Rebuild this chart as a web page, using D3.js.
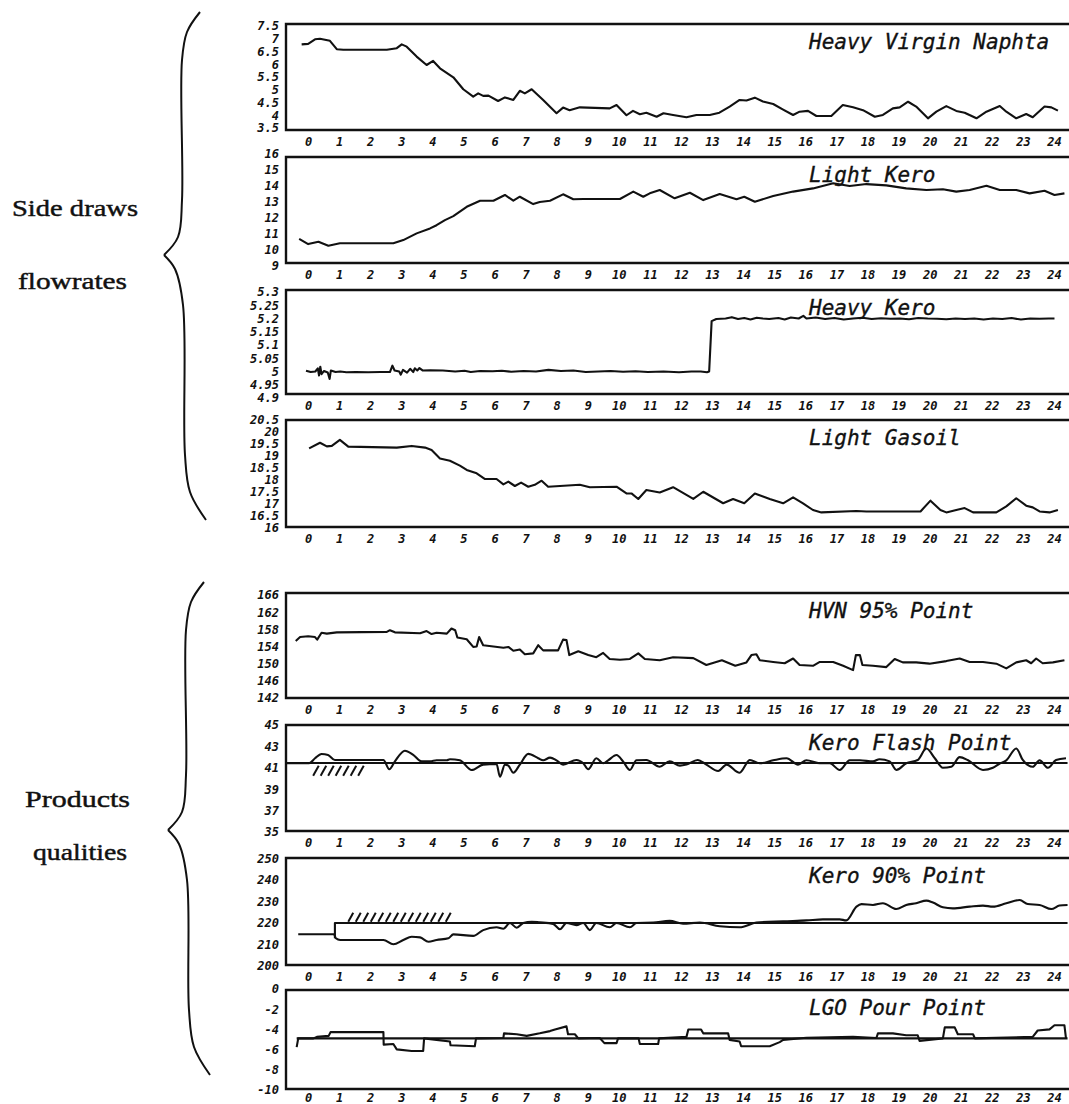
<!DOCTYPE html>
<html>
<head>
<meta charset="utf-8">
<script src="https://cdn.jsdelivr.net/npm/d3@7"></script>
<style>
  body { margin: 0; background: #fff; }
  text { fill: #111; }
  .tick text { font-family: "DejaVu Sans Mono", monospace; font-weight: bold; font-style: italic; font-size: 12px; }
  .title { font-family: "DejaVu Sans Mono", monospace; font-style: italic; font-size: 21px; stroke: #111; stroke-width: 0.35px; }
  .side { font-family: "Liberation Serif", serif; font-size: 24px; stroke: #111; stroke-width: 0.45px; }
</style>
</head>
<body>
<div id="chart"></div>
<script>
/* Crude unit: side draws flowrates and product qualities over 24 hours */

const hourTicks = [0,1,2,3,4,5,6,7,8,9,10,11,12,13,14,15,16,17,18,19,20,21,22,23,24];

const titles = ["Heavy Virgin Naphta", "Light Kero", "Heavy Kero", "Light Gasoil",
                "HVN 95% Point", "Kero Flash Point", "Kero 90% Point", "LGO Pour Point"];

const hvnTicks    = [3.5,4,4.5,5,5.5,6,6.5,7,7.5];
const lkTicks     = [9,10,11,12,13,14,15,16];
const hkTicks     = [4.9,4.95,5,5.05,5.1,5.15,5.2,5.25,5.3];
const lgoTicks    = [16,16.5,17,17.5,18,18.5,19,19.5,20,20.5];
const hvn95Ticks  = [142,146,150,154,158,162,166];
const flashTicks  = [35,37,39,41,43,45];
const k90Ticks    = [200,210,220,230,240,250];
const pourTicks   = [-10,-8,-6,-4,-2,0];

// [hour, value]
const hvnFlow = [[-0.14,6.78],[0.07,6.8],[0.29,6.98],[0.45,7.0],[0.77,6.92],[0.99,6.59],[1.2,6.57],[2.6,6.57],[2.92,6.63],[3.08,6.78],[3.24,6.69],[3.56,6.3],[3.88,5.97],[4.09,6.13],[4.31,5.84],[4.74,5.49],[5.06,5.02],[5.38,4.73],[5.54,4.86],[5.7,4.76],[5.87,4.77],[6.18,4.56],[6.4,4.7],[6.67,4.6],[6.88,4.96],[7.04,4.86],[7.26,5.02],[7.63,4.6],[8.06,4.08],[8.27,4.3],[8.48,4.2],[8.81,4.31],[9.77,4.27],[9.99,4.4],[10.31,4.0],[10.52,4.17],[10.74,4.04],[10.95,4.1],[11.28,3.94],[11.5,4.08],[11.81,4.01],[12.24,3.92],[12.56,4.01],[12.99,4.01],[13.3,4.1],[13.63,4.34],[13.95,4.6],[14.17,4.58],[14.44,4.69],[14.7,4.54],[15.03,4.44],[15.35,4.22],[15.67,4.01],[15.88,4.14],[16.15,4.17],[16.42,3.97],[16.9,3.97],[17.27,4.4],[17.6,4.31],[17.92,4.2],[18.3,3.94],[18.56,4.01],[18.88,4.27],[19.1,4.31],[19.37,4.53],[19.63,4.34],[20.01,3.88],[20.28,4.14],[20.6,4.36],[20.92,4.17],[21.19,4.1],[21.57,3.88],[21.89,4.14],[22.32,4.36],[22.53,4.14],[22.85,3.88],[23.17,4.05],[23.38,3.92],[23.76,4.34],[23.98,4.31],[24.19,4.18]];

const lightKeroFlow = [[-0.22,10.69],[0.07,10.37],[0.4,10.52],[0.72,10.27],[1.09,10.42],[2.81,10.42],[3.13,10.62],[3.56,11.04],[3.99,11.35],[4.2,11.55],[4.47,11.87],[4.74,12.12],[5.17,12.7],[5.6,13.08],[6.03,13.08],[6.4,13.44],[6.67,13.08],[6.88,13.33],[7.31,12.87],[7.52,13.0],[7.85,13.08],[8.27,13.48],[8.6,13.17],[8.92,13.19],[10.1,13.19],[10.53,13.65],[10.85,13.33],[11.06,13.54],[11.38,13.75],[11.86,13.23],[12.35,13.58],[12.78,13.12],[13.31,13.5],[13.85,13.17],[14.1,13.33],[14.44,13.02],[15.03,13.37],[15.67,13.65],[16.31,13.85],[16.96,14.17],[17.49,14.0],[18.03,14.12],[18.67,14.04],[19.31,13.85],[19.96,13.75],[20.49,13.8],[20.92,13.65],[21.35,13.75],[21.89,14.02],[22.32,13.75],[22.85,13.75],[23.28,13.54],[23.76,13.7],[24.08,13.44],[24.4,13.54]];

const heavyKeroFlow = [[0.0,5.003],[0.15,4.998],[0.3,5.0],[0.38,5.012],[0.42,4.985],[0.46,5.018],[0.5,4.99],[0.58,5.002],[0.7,4.996],[0.76,4.972],[0.8,5.004],[0.95,4.998],[1.1,5.0],[1.3,4.997],[1.6,4.998],[2.0,4.997],[2.4,4.998],[2.7,4.998],[2.78,5.022],[2.85,5.004],[3.0,5.0],[3.05,4.988],[3.12,5.006],[3.25,4.996],[3.35,5.01],[3.45,4.998],[3.5,5.012],[3.58,5.004],[3.65,5.013],[3.75,5.004],[4.0,5.005],[4.4,5.004],[4.8,5.0],[5.1,5.003],[5.3,4.998],[5.6,5.002],[6.0,5.001],[6.3,5.003],[6.6,4.999],[7.0,5.002],[7.4,5.0],[7.8,5.006],[8.2,5.002],[8.6,5.004],[9.0,4.998],[9.4,5.0],[9.8,5.002],[10.2,4.999],[10.6,5.001],[11.0,4.998],[11.5,5.0],[12.0,4.997],[12.4,5.0],[12.7,5.0],[12.9,4.997],[12.97,5.0],[13.05,5.19],[13.2,5.198],[13.5,5.2],[13.7,5.205],[13.9,5.198],[14.1,5.202],[14.3,5.196],[14.5,5.203],[14.7,5.2],[14.9,5.198],[15.2,5.202],[15.4,5.196],[15.6,5.204],[15.85,5.2],[16.0,5.21],[16.1,5.2],[16.4,5.204],[16.7,5.198],[17.0,5.202],[17.3,5.196],[17.6,5.2],[17.9,5.203],[18.2,5.198],[18.5,5.201],[18.8,5.199],[19.1,5.2],[19.4,5.197],[19.7,5.202],[20.0,5.2],[20.3,5.199],[20.6,5.197],[20.9,5.2],[21.2,5.198],[21.5,5.2],[21.8,5.196],[22.1,5.2],[22.4,5.198],[22.7,5.202],[23.0,5.196],[23.3,5.2],[23.6,5.199],[23.9,5.2],[24.08,5.2]];

const lightGasoilFlow = [[0.1,19.32],[0.45,19.55],[0.67,19.4],[0.83,19.42],[1.09,19.67],[1.36,19.39],[2.92,19.35],[3.4,19.42],[3.83,19.35],[4.04,19.25],[4.31,18.9],[4.63,18.8],[4.95,18.6],[5.17,18.42],[5.49,18.28],[5.76,18.04],[6.13,18.04],[6.35,17.82],[6.51,17.93],[6.72,17.75],[6.92,17.89],[7.15,17.72],[7.36,17.8],[7.58,17.97],[7.79,17.72],[8.17,17.75],[8.81,17.8],[9.13,17.7],[9.99,17.72],[10.31,17.44],[10.47,17.44],[10.69,17.21],[10.95,17.58],[11.38,17.48],[11.81,17.7],[12.46,17.21],[12.78,17.51],[13.42,17.03],[13.74,17.21],[14.1,17.03],[14.44,17.44],[14.92,17.21],[15.35,17.03],[15.67,17.28],[15.99,17.03],[16.31,16.75],[16.58,16.65],[17.71,16.71],[18.03,16.69],[19.77,16.69],[20.09,17.14],[20.41,16.75],[20.6,16.65],[20.92,16.75],[21.19,16.83],[21.46,16.65],[22.21,16.65],[22.53,16.9],[22.85,17.24],[23.17,16.93],[23.38,16.86],[23.6,16.69],[23.92,16.65],[24.19,16.75]];

const hvn95 = [[-0.33,155.3],[-0.19,156.2],[0.07,156.4],[0.29,156.2],[0.36,155.6],[0.5,157.2],[0.67,157.0],[0.99,157.3],[2.6,157.4],[2.7,157.8],[2.86,157.3],[3.67,157.1],[3.88,157.6],[4.04,156.9],[4.2,157.2],[4.53,157.0],[4.68,158.2],[4.8,157.8],[4.87,156.1],[5.17,155.7],[5.38,153.9],[5.49,154.0],[5.57,156.2],[5.7,154.3],[6.03,154.0],[6.35,153.7],[6.51,153.9],[6.67,153.0],[6.88,153.3],[7.04,152.2],[7.31,152.4],[7.47,154.3],[7.63,153.1],[8.11,153.1],[8.27,155.6],[8.38,155.5],[8.47,152.0],[8.76,152.9],[9.08,152.0],[9.34,151.5],[9.56,152.5],[9.77,151.1],[10.1,150.9],[10.42,151.1],[10.69,152.4],[10.9,151.1],[11.38,150.8],[11.81,151.5],[12.46,151.3],[12.88,149.7],[13.38,150.8],[13.81,149.5],[14.17,150.3],[14.33,152.0],[14.49,152.2],[14.6,150.8],[15.03,150.4],[15.4,150.1],[15.67,151.2],[15.88,149.7],[16.31,149.5],[16.53,150.4],[16.96,150.4],[17.28,149.5],[17.6,148.5],[17.69,152.0],[17.82,152.0],[17.9,149.7],[18.24,149.5],[18.67,149.2],[18.94,151.1],[19.2,150.3],[19.63,150.3],[20.06,150.0],[20.6,150.6],[21.03,151.2],[21.35,150.4],[21.78,150.4],[22.21,150.0],[22.53,148.9],[22.85,150.3],[23.17,150.8],[23.33,150.1],[23.49,151.2],[23.7,150.1],[24.03,150.3],[24.4,150.8]];

const keroFlash = [[-0.65,41.42],[0.1,41.42],[0.29,41.89],[0.5,42.29],[0.71,42.2],[0.93,41.73],[2.49,41.73],[2.68,40.86],[2.86,41.6],[3.18,42.6],[3.45,42.2],[3.72,41.6],[3.99,41.6],[4.2,41.7],[4.53,41.7],[4.63,41.8],[4.95,41.7],[5.33,40.8],[5.7,41.3],[6.13,41.35],[6.24,40.17],[6.4,41.3],[6.51,41.2],[6.67,40.54],[6.88,41.3],[7.15,42.3],[7.47,41.9],[7.63,41.7],[7.85,41.95],[8.06,41.7],[8.27,41.3],[8.7,41.73],[8.92,41.42],[9.08,40.86],[9.34,41.89],[9.56,41.42],[9.72,41.7],[9.99,42.2],[10.2,41.6],[10.42,40.8],[10.63,41.7],[10.95,41.73],[11.38,41.1],[11.7,41.6],[12.03,41.2],[12.24,41.3],[12.6,41.73],[12.88,41.3],[13.26,40.7],[13.53,41.3],[13.95,40.54],[14.28,41.73],[14.6,41.42],[15.03,41.7],[15.46,41.89],[15.83,41.3],[16.1,41.7],[16.53,41.42],[16.85,41.42],[17.17,40.8],[17.49,41.7],[17.82,41.7],[18.24,41.6],[18.45,41.8],[18.78,41.6],[18.99,40.8],[19.31,41.42],[19.68,41.73],[19.96,42.8],[20.23,41.89],[20.49,41.0],[20.76,41.1],[21.03,42.0],[21.3,41.7],[21.78,40.8],[22.1,41.0],[22.32,41.4],[22.53,41.7],[22.85,42.8],[23.06,41.73],[23.38,41.1],[23.6,41.7],[23.87,41.0],[24.13,41.73],[24.45,41.89]];
const keroFlashSP = [[-0.65,41.45],[24.5,41.45]];
const flashHatch = [0.23, 1.95, 40.25, 41.2];   // hour from, hour to, value low, value high

const kero90 = [[-0.25,214.8],[0.9,214.8],[0.96,212.9],[1.1,212.1],[2.49,212.1],[2.81,210.1],[3.13,212.1],[3.4,213.6],[3.67,213.3],[3.94,211.3],[4.2,212.1],[4.58,212.9],[4.74,214.7],[5.38,214.0],[5.7,216.7],[6.13,218.0],[6.35,217.3],[6.56,220],[6.78,217.8],[6.99,220],[7.26,220.6],[7.52,220.3],[7.95,219.6],[8.17,217.1],[8.38,220],[8.7,219],[8.92,220],[9.13,216.7],[9.34,220],[9.77,218],[9.99,220],[10.42,218],[10.63,220],[11.17,220.2],[11.7,221],[12.13,219.7],[12.67,220.2],[13.31,218.5],[13.95,218.0],[14.49,220.2],[15.35,220.8],[16.1,221.2],[16.63,221.7],[17.17,221.7],[17.38,221.2],[17.71,227.6],[17.87,228.8],[18.24,228.4],[18.56,229.2],[18.99,226.5],[19.31,228.4],[19.63,229.2],[19.96,230.4],[20.17,229.5],[20.49,227.3],[20.81,226.8],[21.35,227.6],[21.78,228.1],[22.1,227.6],[22.53,229.2],[22.96,230.7],[23.22,228.8],[23.6,228.4],[23.98,226.5],[24.24,228.1],[24.5,228.4]];
const kero90SP = [[0.93,212.9],[0.93,220],[24.5,220]];
const kero90Hatch = [1.36, 4.68, 220.6, 224.8];

const lgoPour = [[-0.3,-5.75],[-0.25,-4.89],[0.24,-4.89],[0.35,-4.74],[0.73,-4.64],[0.79,-4.27],[2.49,-4.27],[2.5,-5.51],[2.81,-5.45],[2.92,-5.98],[3.4,-6.14],[3.77,-6.14],[3.8,-4.89],[4.2,-5.04],[4.63,-5.2],[4.65,-5.57],[5.43,-5.67],[5.47,-4.89],[6.35,-4.85],[6.37,-4.39],[6.78,-4.48],[7.1,-4.64],[7.52,-4.39],[7.85,-4.17],[8.01,-4.01],[8.38,-3.7],[8.43,-4.48],[8.65,-4.48],[8.76,-4.89],[9.45,-4.85],[9.6,-5.36],[9.99,-5.36],[10.04,-4.89],[10.7,-4.89],[10.74,-5.45],[11.33,-5.45],[11.36,-4.89],[12.24,-4.74],[12.3,-4.01],[12.71,-4.01],[12.78,-4.39],[13.58,-4.39],[13.63,-5.04],[13.95,-5.2],[14.0,-5.67],[14.92,-5.67],[15.24,-5.26],[15.35,-5.04],[16.1,-4.83],[17.6,-4.74],[18.35,-4.85],[18.4,-4.39],[18.88,-4.39],[19.31,-4.58],[19.68,-4.58],[19.74,-5.14],[20.49,-4.89],[20.55,-3.8],[20.87,-3.8],[20.97,-4.48],[21.46,-4.48],[21.52,-4.89],[23.38,-4.74],[23.54,-4.11],[23.92,-4.0],[24.08,-3.59],[24.4,-3.59],[24.45,-4.89]];
const lgoPourSP = [[-0.3,-4.89],[24.5,-4.89]];

/* page layout */
const width = 1069, height = 1104;
const boxLeft = 286, boxRight = 1069;
const panelTop    = [24, 157, 290, 420, 593, 725, 858, 990];
const panelBottom = [130, 263, 394, 527, 698, 831, 965, 1089];
const scaleBottom = [128, 266, 398, 528, 698, 832, 966, 1090];
const scaleTop    = [26, 154, 292, 420, 595, 725, 858.5, 989];

const panels = [
  { title: titles[0], ticks: hvnTicks,   series: [hvnFlow] },
  { title: titles[1], ticks: lkTicks,    series: [lightKeroFlow] },
  { title: titles[2], ticks: hkTicks,    series: [heavyKeroFlow] },
  { title: titles[3], ticks: lgoTicks,   series: [lightGasoilFlow] },
  { title: titles[4], ticks: hvn95Ticks, series: [hvn95] },
  { title: titles[5], ticks: flashTicks, series: [keroFlashSP], smooth: [keroFlash], hatch: flashHatch },
  { title: titles[6], ticks: k90Ticks,   series: [kero90SP], smooth: [kero90], hatch: kero90Hatch },
  { title: titles[7], ticks: pourTicks,  series: [lgoPourSP, lgoPour] }
];

const svg = d3.select("#chart")
    .append("svg")
    .attr("width", width)
    .attr("height", height)
    .attr("viewBox", [0, 0, width, height]);

/* one hour scale shared by all panels */
const x = d3.scaleLinear()
    .domain([0, 24])
    .range([306, 1052]);

panels.forEach((p, i) => {
    const top = panelTop[i], bottom = panelBottom[i];
    const y = d3.scaleLinear()
        .domain(d3.extent(p.ticks))
        .range([scaleBottom[i], scaleTop[i]]);

    const g = svg.append("g");

    // frame: top, bottom and left edge (right edge is cut by the page)
    g.append("path")
        .attr("d", `M${boxRight},${top}H${boxLeft}V${bottom}H${boxRight}`)
        .attr("fill", "none")
        .attr("stroke", "#111")
        .attr("stroke-width", 2.4);

    g.append("g")
        .attr("transform", `translate(${boxLeft},0)`)
        .call(d3.axisLeft(y).tickValues(p.ticks).tickSize(0).tickPadding(7).tickFormat(d => String(d)))
        .call(a => a.select(".domain").remove());

    // the last row sits tight against the page bottom
    const labelGap = i === panels.length - 1 ? 4 : 7;
    g.append("g")
        .attr("transform", `translate(2,${bottom + labelGap})`)
        .call(d3.axisBottom(x).tickValues(hourTicks).tickSize(0).tickPadding(0).tickFormat(d => String(d)))
        .call(a => a.select(".domain").remove());

    g.append("text")
        .attr("class", "title")
        .attr("x", 809)
        .attr("y", top + 25)
        .text(p.title);

    const line = d3.line().x(d => x(d[0])).y(d => y(d[1]));
    const smoothLine = d3.line().x(d => x(d[0])).y(d => y(d[1])).curve(d3.curveMonotoneX);

    p.series.forEach(s => {
        g.append("path")
            .attr("d", line(s))
            .attr("fill", "none")
            .attr("stroke", "#111")
            .attr("stroke-width", 2.1)
            .attr("stroke-linejoin", "round");
    });
    (p.smooth || []).forEach(s => {
        g.append("path")
            .attr("d", smoothLine(s))
            .attr("fill", "none")
            .attr("stroke", "#111")
            .attr("stroke-width", 2.1);
    });

    /* hatched constraint zone */
    if (p.hatch) {
        const [t0, t1, v0, v1] = p.hatch;
        const yLow = y(v0), yHigh = y(v1);
        const slant = (yLow - yHigh) * 0.55;
        for (let xs = x(t0); xs + slant <= x(t1) + 1; xs += 7.5) {
            g.append("line")
                .attr("x1", xs).attr("y1", yLow)
                .attr("x2", xs + slant).attr("y2", yHigh)
                .attr("stroke", "#111")
                .attr("stroke-width", 2);
        }
    }
});

/* left braces with group labels */
function brace(x0, yTop, yTip, yBot) {
    const curve = d3.line().curve(d3.curveCatmullRom);
    const upper = [[x0 + 18, yTop], [x0 + 5, yTop + 20], [x0, yTop + 48], [x0, yTip - 55], [x0 - 4, yTip - 18], [x0 - 18, yTip]];
    const lower = [[x0 - 18, yTip], [x0 - 7, yTip + 14], [x0 + 1, yTip + 50], [x0 + 3, yBot - 65], [x0 + 8, yBot - 28], [x0 + 24, yBot]];
    [upper, lower].forEach(pts => {
        svg.append("path")
            .attr("d", curve(pts))
            .attr("fill", "none")
            .attr("stroke", "#111")
            .attr("stroke-width", 2);
    });
}
brace(182, 12, 255, 520);
brace(186, 582, 830, 1075);

const sideLabels = [
    ["Side draws", 12, 216, 126],
    ["flowrates", 18, 289, 109],
    ["Products", 25, 807, 105],
    ["qualities", 33, 860, 94]
];
sideLabels.forEach(([txt, lx, ly, len]) => {
    svg.append("text")
        .attr("class", "side")
        .attr("x", lx)
        .attr("y", ly)
        .attr("textLength", len)
        .attr("lengthAdjust", "spacingAndGlyphs")
        .text(txt);
});
</script>
</body>
</html>
